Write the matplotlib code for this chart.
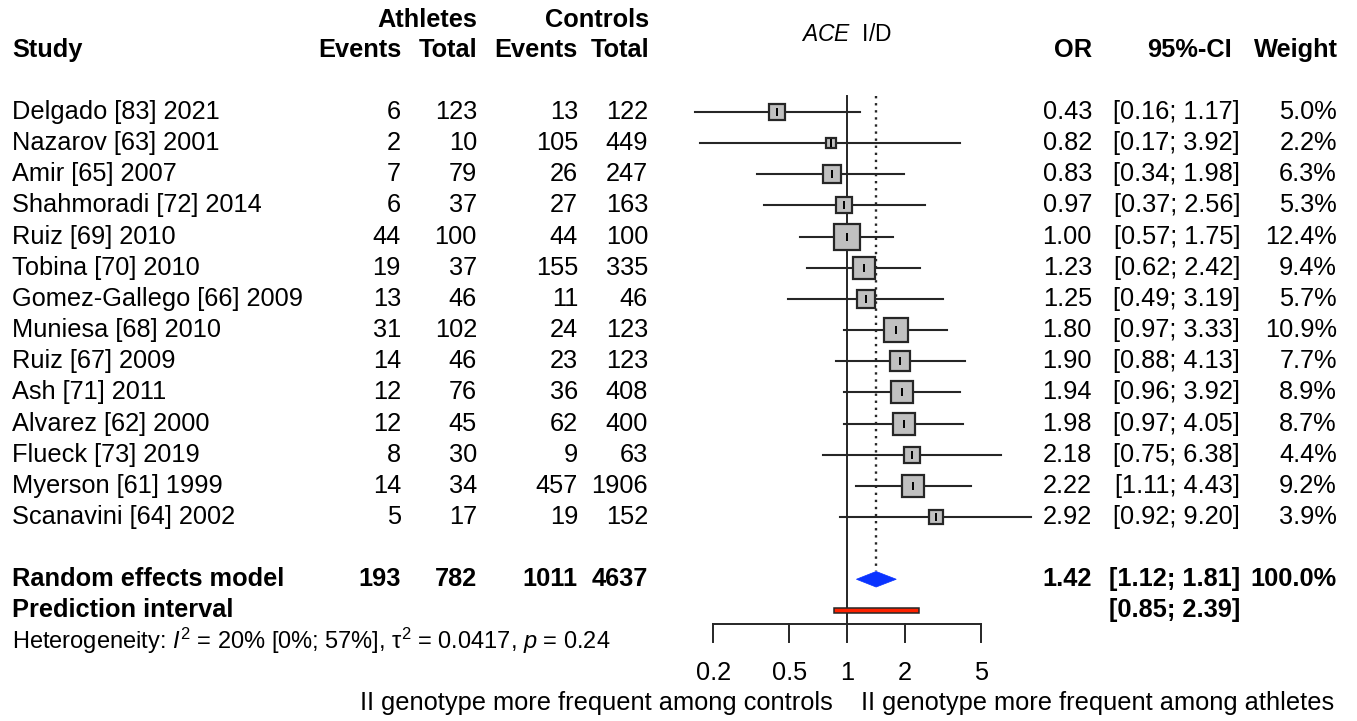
import numpy as np
import matplotlib
matplotlib.use("Agg")
import matplotlib.pyplot as plt
from matplotlib.patches import Rectangle, Polygon

plt.rcParams['font.family'] = ['Liberation Sans', 'DejaVu Sans']
plt.rcParams['mathtext.fontset'] = 'custom'
plt.rcParams['mathtext.rm'] = 'Liberation Sans'
plt.rcParams['mathtext.it'] = 'Liberation Sans:italic'
plt.rcParams['mathtext.bf'] = 'Liberation Sans:bold'

# ---------------- data ----------------
studies = ["Delgado [83] 2021", "Nazarov [63] 2001", "Amir [65] 2007",
           "Shahmoradi [72] 2014", "Ruiz [69] 2010", "Tobina [70] 2010",
           "Gomez-Gallego [66] 2009", "Muniesa [68] 2010", "Ruiz [67] 2009",
           "Ash [71] 2011", "Alvarez [62] 2000", "Flueck [73] 2019",
           "Myerson [61] 1999", "Scanavini [64] 2002"]
events_ath = [6, 2, 7, 6, 44, 19, 13, 31, 14, 12, 12, 8, 14, 5]
total_ath = [123, 10, 79, 37, 100, 37, 46, 102, 46, 76, 45, 30, 34, 17]
events_ctl = [13, 105, 26, 27, 44, 155, 11, 24, 23, 36, 62, 9, 457, 19]
total_ctl = [122, 449, 247, 163, 100, 335, 46, 123, 123, 408, 400, 63, 1906, 152]
odds = [0.43, 0.82, 0.83, 0.97, 1.00, 1.23, 1.25, 1.80, 1.90, 1.94, 1.98, 2.18, 2.22, 2.92]
ci_low = [0.16, 0.17, 0.34, 0.37, 0.57, 0.62, 0.49, 0.97, 0.88, 0.96, 0.97, 0.75, 1.11, 0.92]
ci_high = [1.17, 3.92, 1.98, 2.56, 1.75, 2.42, 3.19, 3.33, 4.13, 3.92, 4.05, 6.38, 4.43, 9.20]
weights = [5.0, 2.2, 6.3, 5.3, 12.4, 9.4, 5.7, 10.9, 7.7, 8.9, 8.7, 4.4, 9.2, 3.9]

re_totals = [193, 782, 1011, 4637]
re_or, re_low, re_high = 1.42, 1.12, 1.81
pi_low, pi_high = 0.85, 2.39
ticks = [0.2, 0.5, 1, 2, 5]
tick_labels = ["0.2", "0.5", "1", "2", "5"]

# ---------------- layout ----------------
W, H = 1357, 721
fig = plt.figure(figsize=(W / 100, H / 100), dpi=100)

row0_px, row_h = 112.0, 31.15
ylim = ((H - row0_px) / row_h, -row0_px / row_h)  # inverted (top row at top)

# forest axes (log scale)
x1_px, ppd = 847.0, 191.2          # pixel of OR=1, pixels per decade
axL, axR = 680.0, 1040.0
xlo = 10 ** ((axL - x1_px) / ppd)
xhi = 10 ** ((axR - x1_px) / ppd)
ax = fig.add_axes([axL / W, 0, (axR - axL) / W, 1])
ax.set_xscale('log')
ax.set_xlim(xlo, xhi)
ax.set_ylim(*ylim)
ax.axis('off')

# text axes spanning the figure, x in pixels
tax = fig.add_axes([0, 0, 1, 1], zorder=-1)
tax.set_xlim(0, W)
tax.set_ylim(*ylim)
tax.axis('off')

FS = 18.3
n = len(studies)
rows = np.arange(n)
re_row = n + 1
pi_row = n + 2
axis_row = pi_row + 0.44
tick_end_row = pi_row + 1.02
ticklab_row = pi_row + 2.0
het_row = pi_row + 0.97
bottom_row = pi_row + 2.97

line_col = '#262626'

# reference lines
ax.plot([1, 1], [-0.52, axis_row], color=line_col, lw=1.4, zorder=1)
ax.plot([re_or, re_or], [-0.52, re_row - 0.27], color=line_col, lw=1.7,
        ls=(0, (1.0, 2.0)), zorder=1)

# study CIs, boxes, tick marks
for i in range(n):
    ax.plot([ci_low[i], ci_high[i]], [rows[i], rows[i]], color=line_col, lw=1.5, zorder=2)
for i in range(n):
    side_px = 7.3 * np.sqrt(weights[i])
    ax.plot([odds[i]], [rows[i]], marker='s', markersize=side_px * 0.72,
            markerfacecolor='#c0c0c0', markeredgecolor=line_col,
            markeredgewidth=1.6, ls='none', zorder=3)
    ax.plot([odds[i]], [rows[i]], marker='|', markersize=5.2,
            markeredgecolor='black', markeredgewidth=1.4, ls='none', zorder=4)

# diamond
dh = 0.25
ax.add_patch(Polygon([[re_low, re_row], [re_or, re_row - dh], [re_high, re_row],
                      [re_or, re_row + dh]], closed=True, facecolor='#0a33ff',
                     edgecolor='#0a33ff', lw=0.5, zorder=3))

# prediction interval
ph = 0.085
ax.add_patch(Rectangle((pi_low, pi_row - ph), pi_high - pi_low, 2 * ph,
                       facecolor='#ff2200', edgecolor=line_col, lw=1.1, zorder=3))

# x axis
ax.plot([ticks[0], ticks[-1]], [axis_row, axis_row], color=line_col, lw=1.4)
for t, lab in zip(ticks, tick_labels):
    ax.plot([t, t], [axis_row, tick_end_row], color=line_col, lw=1.4)
    ax.text(t, ticklab_row, lab, ha='center', va='center', fontsize=FS)

# ---------------- text columns ----------------
def txt(x, y, s, ha='right', bold=False, fs=FS, **kw):
    tax.text(x, y, s, ha=ha, va='center', fontsize=fs,
             fontweight='bold' if bold else 'normal', **kw)

x_study = 12
x_ea, x_ta, x_ec, x_tc = 401, 477, 578, 648
x_or, x_ci, x_w = 1092, 1240, 1337

h1, h2 = -2.95, -2.0
txt(x_ta, h1, "Athletes", bold=True)
txt(649, h1, "Controls", bold=True)
txt(x_study, h2, "Study", ha='left', bold=True)
txt(x_ea, h2, "Events", bold=True)
txt(x_ta, h2, "Total", bold=True)
txt(x_ec, h2, "Events", bold=True)
txt(649, h2, "Total", bold=True)
txt(x_or, h2, "OR", bold=True)
txt(1232, h2, "95%-CI", bold=True)
txt(1338, h2, "Weight", bold=True)
txt(846, -2.5, r"$\mathit{ACE}$  I/D", ha='center', fs=16.5)

for i in range(n):
    y = rows[i]
    txt(x_study, y, studies[i], ha='left')
    txt(x_ea, y, f"{events_ath[i]}")
    txt(x_ta, y, f"{total_ath[i]}")
    txt(x_ec, y, f"{events_ctl[i]}")
    txt(x_tc, y, f"{total_ctl[i]}")
    txt(x_or, y, f"{odds[i]:.2f}")
    txt(x_ci, y, f"[{ci_low[i]:.2f}; {ci_high[i]:.2f}]")
    txt(x_w, y, f"{weights[i]:.1f}%")

txt(x_study, re_row, "Random effects model", ha='left', bold=True)
for xx, v in zip([x_ea, x_ta, x_ec, x_tc], re_totals):
    txt(xx, re_row, f"{v}", bold=True)
txt(x_or, re_row, f"{re_or:.2f}", bold=True)
txt(x_ci, re_row, f"[{re_low:.2f}; {re_high:.2f}]", bold=True)
txt(x_w, re_row, "100.0%", bold=True)

txt(x_study, pi_row, "Prediction interval", ha='left', bold=True)
txt(x_ci, pi_row, f"[{pi_low:.2f}; {pi_high:.2f}]", bold=True)

txt(x_study, het_row,
    r"Heterogeneity: $\mathit{I}^{2}$ = 20% [0%; 57%], τ$^{2}$ = 0.0417, $\mathit{p}$ = 0.24",
    ha='left', fs=17)

txt(833, bottom_row, "II genotype more frequent among controls", ha='right')
txt(861, bottom_row, "II genotype more frequent among athletes", ha='left')

fig.savefig("out.png", dpi=100)
